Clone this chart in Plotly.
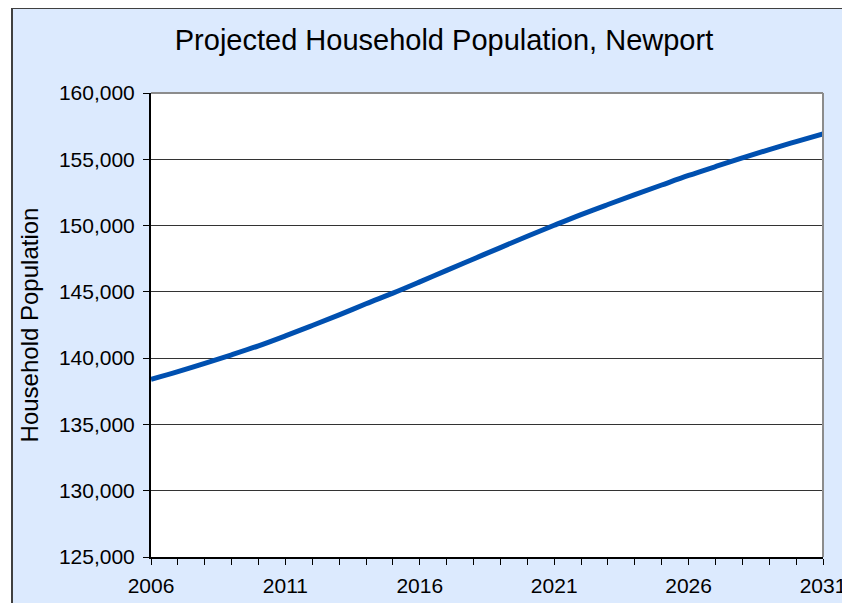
import plotly.graph_objects as go

years = list(range(2006, 2032))
population = [138400, 138980, 139600, 140250, 140930, 141680, 142460, 143260,
              144100, 144900, 145750, 146620, 147480, 148340, 149190, 150020,
              150830, 151590, 152330, 153060, 153780, 154450, 155100, 155730,
              156330, 156910]
x_tick_labels = [str(y) if (y - 2006) % 5 == 0 else "" for y in years]
y_tick_vals = list(range(125000, 160001, 5000))
y_tick_labels = [f"{v:,}" for v in y_tick_vals]

title_text = "Projected Household Population, Newport"
y_title = "Household Population"

BG = "#DCEAFE"
FONT = "Liberation Sans, Arial, sans-serif"

# page has an 8px body margin; positions below are figure coordinates
OFF = 8
W, H = 850, 603
L, T = 151 - OFF, 93 - OFF
R = W - (823 - OFF)
B = H - (557 - OFF)
pw, ph = W - L - R, H - T - B

def px_x(p):
    return (p - OFF - L) / pw

def px_y(p):
    return (H - B - (p - OFF)) / ph

fig = go.Figure()
fig.add_trace(go.Scatter(
    x=years, y=population, mode="lines",
    line=dict(color="#0050B0", width=5, shape="spline"),
    showlegend=False, hoverinfo="x+y"))

shapes = [
    # white outside the chart frame
    dict(type="rect", xref="paper", yref="paper", x0=px_x(-10), x1=px_x(12), y0=px_y(640), y1=px_y(-10),
         fillcolor="white", line=dict(width=0), layer="above"),
    # chart frame
    dict(type="rect", xref="paper", yref="paper", x0=px_x(12), x1=px_x(846.5), y0=px_y(660), y1=px_y(8),
         fillcolor="rgba(0,0,0,0)", line=dict(color="#404040", width=2), layer="above"),
    # plot area top and right border
    dict(type="line", xref="paper", yref="paper", x0=0, x1=1, y0=1, y1=1,
         line=dict(color="#8C8C8C", width=2), layer="above"),
    dict(type="line", xref="paper", yref="paper", x0=1, x1=1, y0=0, y1=1,
         line=dict(color="#8C8C8C", width=2), layer="above"),
]

fig.update_layout(
    width=W, height=H,
    margin=dict(l=L, r=R, t=T, b=B),
    paper_bgcolor=BG, plot_bgcolor="white",
    font=dict(family=FONT, color="black", size=21),
    title=dict(text=title_text, x=(444 - OFF) / W, xanchor="center", y=1 - (40 - OFF) / H, yanchor="middle",
               font=dict(size=29, family=FONT, color="black")),
    shapes=shapes,
    xaxis=dict(range=[2006, 2031], tickmode="array", tickvals=years, ticktext=x_tick_labels,
               ticks="outside", ticklen=6, tickwidth=1, tickcolor="black",
               showline=True, linecolor="black", linewidth=2, showgrid=False, zeroline=False,
               tickfont=dict(size=21), ticklabelstandoff=3, fixedrange=True),
    yaxis=dict(range=[125000, 160000], tickmode="array", tickvals=y_tick_vals, ticktext=y_tick_labels,
               ticks="outside", ticklen=6, tickwidth=1, tickcolor="black",
               showline=True, linecolor="black", linewidth=2,
               showgrid=True, gridcolor="#333333", gridwidth=1, zeroline=False,
               tickfont=dict(size=21), ticklabelstandoff=4,
               title=dict(text=y_title, font=dict(size=24), standoff=13), fixedrange=True),
)

fig.write_html("out.html")
